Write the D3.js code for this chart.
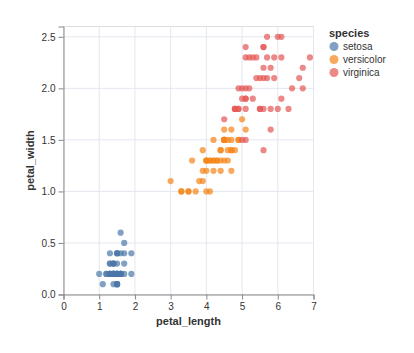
<!DOCTYPE html>
<html>
<head>
<meta charset="utf-8">
<script src="https://cdn.jsdelivr.net/npm/d3@7"></script>
<style>
  body { margin: 0; background: #fff; }
  text { font-family: "Liberation Sans", Arial, sans-serif; }
</style>
</head>
<body>
<svg id="chart"></svg>
<script>
// iris petal measurements, in data order
const setosaLength = [1.4,1.4,1.3,1.5,1.4,1.7,1.4,1.5,1.4,1.5,1.5,1.6,1.4,1.1,1.2,1.5,1.3,1.4,1.7,1.5,1.7,1.5,1.0,1.7,1.9,1.6,1.6,1.5,1.4,1.6,1.6,1.5,1.5,1.4,1.5,1.2,1.3,1.5,1.3,1.5,1.3,1.3,1.3,1.6,1.9,1.4,1.6,1.4,1.5,1.4];
const setosaWidth  = [0.2,0.2,0.2,0.2,0.2,0.4,0.3,0.2,0.2,0.1,0.2,0.2,0.1,0.1,0.2,0.4,0.4,0.3,0.3,0.3,0.2,0.4,0.2,0.5,0.2,0.2,0.4,0.2,0.2,0.2,0.2,0.4,0.1,0.2,0.1,0.2,0.2,0.1,0.2,0.2,0.3,0.3,0.2,0.6,0.4,0.3,0.2,0.2,0.2,0.2];
const versicolorLength = [4.7,4.5,4.9,4.0,4.6,4.5,4.7,3.3,4.6,3.9,3.5,4.2,4.0,4.7,3.6,4.4,4.5,4.1,4.5,3.9,4.8,4.0,4.9,4.7,4.3,4.4,4.8,5.0,4.5,3.5,3.8,3.7,3.9,5.1,4.5,4.5,4.7,4.4,4.1,4.0,4.4,4.6,4.0,3.3,4.2,4.2,4.2,4.3,3.0,4.1];
const versicolorWidth  = [1.4,1.5,1.5,1.3,1.5,1.3,1.6,1.0,1.3,1.4,1.0,1.5,1.0,1.4,1.3,1.4,1.5,1.0,1.5,1.1,1.8,1.3,1.5,1.2,1.3,1.4,1.4,1.7,1.5,1.0,1.1,1.0,1.2,1.6,1.5,1.6,1.5,1.3,1.3,1.3,1.2,1.4,1.2,1.0,1.3,1.2,1.3,1.3,1.1,1.3];
const virginicaLength = [6.0,5.1,5.9,5.6,5.8,6.6,4.5,6.3,5.8,6.1,5.1,5.3,5.5,5.0,5.1,5.3,5.5,6.7,6.9,5.0,5.7,4.9,6.7,4.9,5.7,6.0,4.8,4.9,5.6,5.8,6.1,6.4,5.6,5.1,5.6,6.1,5.6,5.5,4.8,5.4,5.6,5.1,5.1,5.9,5.7,5.2,5.0,5.2,5.4,5.1];
const virginicaWidth  = [2.5,1.9,2.1,1.8,2.2,2.1,1.7,1.8,1.8,2.5,2.0,1.9,2.1,2.0,2.4,2.3,1.8,2.2,2.3,1.5,2.3,2.0,2.0,1.8,2.1,1.8,1.8,1.8,2.1,1.6,1.9,2.0,2.2,1.5,1.4,2.3,2.4,1.8,1.8,2.1,2.4,2.3,1.9,2.3,2.5,2.3,1.9,2.0,2.3,1.8];

const species = ["setosa", "versicolor", "virginica"];
const colors = ["#4c78a8", "#f58518", "#e45756"];
const xTicks = [0, 1, 2, 3, 4, 5, 6, 7];
const yTicks = [0, 0.5, 1, 1.5, 2, 2.5];

const rows = [];
[[setosaLength, setosaWidth], [versicolorLength, versicolorWidth], [virginicaLength, virginicaWidth]]
  .forEach(([len, wid], k) => {
    len.forEach((v, i) => rows.push({petal_length: v, petal_width: wid[i], species: species[k]}));
  });

const width = 414, height = 353;
const margin = {top: 26, left: 63};
const w = 250, h = 268;

const svg = d3.select("#chart").attr("width", width).attr("height", height);
const g = svg.append("g").attr("transform", `translate(${margin.left + 0.5},${margin.top + 0.5})`);

const x = d3.scaleLinear().domain([0, 7]).range([0, w]);
const y = d3.scaleLinear().domain([0, 2.6]).range([h, 0]);
const color = d3.scaleOrdinal().domain(species).range(colors);

// frame
g.append("rect").attr("width", w).attr("height", h)
  .attr("fill", "none").attr("stroke", "#ddd");

// grid
g.append("g").selectAll("line").data(xTicks).join("line")
  .attr("x1", d => x(d)).attr("x2", d => x(d)).attr("y1", 0).attr("y2", h)
  .attr("stroke", "#e3e7ee");
g.append("g").selectAll("line").data(yTicks).join("line")
  .attr("x1", 0).attr("x2", w).attr("y1", d => y(d)).attr("y2", d => y(d))
  .attr("stroke", "#e3e7ee");

const xAxis = g.append("g").attr("transform", `translate(0,${h})`)
  .call(d3.axisBottom(x).tickValues(xTicks).tickSize(5).tickPadding(3).tickFormat(d3.format("d")));
const yAxis = g.append("g")
  .call(d3.axisLeft(y).tickValues(yTicks).tickSize(5).tickPadding(3).tickFormat(d3.format(".1f")));
[xAxis, yAxis].forEach(a => {
  a.selectAll(".domain, .tick line").attr("stroke", "#888");
  a.selectAll("text").attr("fill", "#333").style("font-size", "10px")
    .style("font-family", '"Liberation Sans", Arial, sans-serif');
});

// points
g.append("g").selectAll("circle").data(rows).join("circle")
  .attr("cx", d => x(d.petal_length))
  .attr("cy", d => y(d.petal_width))
  .attr("r", 3.1)
  .attr("fill", d => color(d.species))
  .attr("fill-opacity", 0.7);

// axis titles
g.append("text").attr("x", w / 2).attr("y", h + 30).attr("text-anchor", "middle")
  .attr("font-size", 11).attr("font-weight", "bold").attr("fill", "#333").text("petal_length");
g.append("text").attr("transform", `translate(-30,${h / 2}) rotate(-90)`)
  .attr("text-anchor", "middle").attr("font-size", 11).attr("font-weight", "bold")
  .attr("fill", "#333").text("petal_width");

// legend
const legend = svg.append("g").attr("transform", "translate(329,26)");
legend.append("text").attr("x", 0).attr("y", 11).attr("font-size", 11)
  .attr("font-weight", "bold").attr("fill", "#333").text("species");
const items = legend.selectAll(".item").data(species).join("g")
  .attr("class", "item").attr("transform", (d, i) => `translate(0,${20.5 + i * 13})`);
items.append("circle").attr("cx", 5).attr("cy", 0).attr("r", 4.5)
  .attr("fill", d => color(d)).attr("fill-opacity", 0.7);
items.append("text").attr("x", 14).attr("y", 3.5).attr("font-size", 10)
  .attr("fill", "#333").text(d => d);
</script>
</body>
</html>
